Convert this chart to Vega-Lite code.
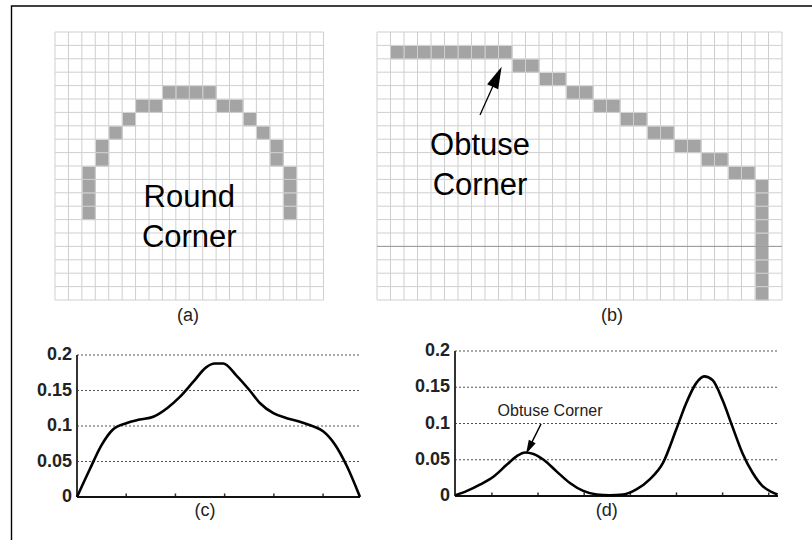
{
"$schema": "https://vega.github.io/schema/vega-lite/v6.json",
"width": 812, "height": 540,
"autosize": {"type": "none"},
"padding": 0,
"background": "white",
"config": {"view": {"stroke": null}, "axis": {"disable": true}},
"datasets": {
  "gridA": [{"g":0},{"g":1},{"g":2},{"g":3},{"g":4},{"g":5},{"g":6},{"g":7},{"g":8},{"g":9},{"g":10},{"g":11},{"g":12},{"g":13},{"g":14},{"g":15},{"g":16},{"g":17},{"g":18},{"g":19},{"g":20}],
  "gridB": [{"g":0},{"g":1},{"g":2},{"g":3},{"g":4},{"g":5},{"g":6},{"g":7},{"g":8},{"g":9},{"g":10},{"g":11},{"g":12},{"g":13},{"g":14},{"g":15},{"g":16},{"g":17},{"g":18},{"g":19},{"g":20},{"g":21},{"g":22},{"g":23},{"g":24},{"g":25},{"g":26},{"g":27},{"g":28},{"g":29},{"g":30}],
  "cellsA": [{"c":8,"r":4},{"c":9,"r":4},{"c":10,"r":4},{"c":11,"r":4},{"c":6,"r":5},{"c":7,"r":5},{"c":12,"r":5},{"c":13,"r":5},{"c":5,"r":6},{"c":14,"r":6},{"c":4,"r":7},{"c":15,"r":7},{"c":3,"r":8},{"c":16,"r":8},{"c":3,"r":9},{"c":16,"r":9},{"c":2,"r":10},{"c":17,"r":10},{"c":2,"r":11},{"c":17,"r":11},{"c":2,"r":12},{"c":17,"r":12},{"c":2,"r":13},{"c":17,"r":13}],
  "cellsB": [{"c":1,"r":1},{"c":2,"r":1},{"c":3,"r":1},{"c":4,"r":1},{"c":5,"r":1},{"c":6,"r":1},{"c":7,"r":1},{"c":8,"r":1},{"c":9,"r":1},{"c":10,"r":2},{"c":11,"r":2},{"c":12,"r":3},{"c":13,"r":3},{"c":14,"r":4},{"c":15,"r":4},{"c":16,"r":5},{"c":17,"r":5},{"c":18,"r":6},{"c":19,"r":6},{"c":20,"r":7},{"c":21,"r":7},{"c":22,"r":8},{"c":23,"r":8},{"c":24,"r":9},{"c":25,"r":9},{"c":26,"r":10},{"c":27,"r":10},{"c":28,"r":11},{"c":28,"r":12},{"c":28,"r":13},{"c":28,"r":14},{"c":28,"r":15},{"c":28,"r":16},{"c":28,"r":17},{"c":28,"r":18},{"c":28,"r":19}],
  "curveC": [{"x":0,"y":0},{"x":2.6,"y":0.039},{"x":4.9,"y":0.072},{"x":7.3,"y":0.095},{"x":10.0,"y":0.104},{"x":12.7,"y":0.109},{"x":15.5,"y":0.113},{"x":18.3,"y":0.125},{"x":20.9,"y":0.141},{"x":23.6,"y":0.162},{"x":26.3,"y":0.183},{"x":28.0,"y":0.188},{"x":29.7,"y":0.188},{"x":32.4,"y":0.171},{"x":35.1,"y":0.150},{"x":37.2,"y":0.132},{"x":39.9,"y":0.118},{"x":42.6,"y":0.111},{"x":45.3,"y":0.106},{"x":48.0,"y":0.0995},{"x":50.0,"y":0.0926},{"x":52.4,"y":0.074},{"x":54.8,"y":0.044},{"x":57.5,"y":0}],
  "curveD": [{"x":2.1,"y":0.001},{"x":4.6,"y":0.007},{"x":7.5,"y":0.016},{"x":10.4,"y":0.027},{"x":13.2,"y":0.043},{"x":15.4,"y":0.055},{"x":17.2,"y":0.060},{"x":19.0,"y":0.058},{"x":21.2,"y":0.050},{"x":24.0,"y":0.034},{"x":26.9,"y":0.018},{"x":29.8,"y":0.007},{"x":32.7,"y":0.002},{"x":35.5,"y":0.001},{"x":38.4,"y":0.002},{"x":41.3,"y":0.009},{"x":44.2,"y":0.023},{"x":47.1,"y":0.046},{"x":49.9,"y":0.091},{"x":52.1,"y":0.128},{"x":54.2,"y":0.155},{"x":56.0,"y":0.165},{"x":57.8,"y":0.160},{"x":60.0,"y":0.132},{"x":62.1,"y":0.096},{"x":64.3,"y":0.059},{"x":66.5,"y":0.032},{"x":68.6,"y":0.014},{"x":70.8,"y":0.005},{"x":71.9,"y":0.002}],
  "yticks": [{"v":0},{"v":0.05},{"v":0.1},{"v":0.15},{"v":0.2}],
  "xticksC": [{"t":10},{"t":20},{"t":30},{"t":40},{"t":50}],
  "xticksD": [{"t":10},{"t":20},{"t":30},{"t":40},{"t":50},{"t":60},{"t":70}]
},
"resolve": {"scale": {"x": "independent", "y": "independent"}},
"layer": [
  {"layer": [
    {"data": {"name": "cellsA"}, "mark": {"type": "rect", "fill": "#a4a4a4"},
     "encoding": {
       "x": {"field": "c", "type": "quantitative", "bin": {"binned": true, "step": 1}, "scale": {"domain": [0, 20], "range": [55, 323.5], "nice": false, "zero": false}},
       "y": {"field": "r", "type": "quantitative", "bin": {"binned": true, "step": 1}, "scale": {"domain": [0, 20], "range": [32, 300], "nice": false, "zero": false}}}},
    {"data": {"name": "gridA"}, "mark": {"type": "rule", "color": "#cfcfcf", "strokeWidth": 1},
     "encoding": {"x": {"field": "g", "type": "quantitative"}, "y": {"datum": 0}, "y2": {"datum": 20}}},
    {"data": {"name": "gridA"}, "mark": {"type": "rule", "color": "#cfcfcf", "strokeWidth": 1},
     "encoding": {"y": {"field": "g", "type": "quantitative"}, "x": {"datum": 0}, "x2": {"datum": 20}}},
    {"data": {"values": [{}]}, "mark": {"type": "text", "text": "Round", "font": "Liberation Sans", "fontSize": 31, "align": "center", "baseline": "alphabetic", "color": "black"},
     "encoding": {"x": {"datum": 10}, "y": {"datum": 13.04}}},
    {"data": {"values": [{}]}, "mark": {"type": "text", "text": "Corner", "font": "Liberation Sans", "fontSize": 31, "align": "center", "baseline": "alphabetic", "color": "black"},
     "encoding": {"x": {"datum": 10}, "y": {"datum": 16.03}}},
    {"data": {"values": [{}]}, "mark": {"type": "text", "text": "(a)", "font": "Liberation Sans", "fontSize": 18, "align": "center", "baseline": "alphabetic", "color": "#222"},
     "encoding": {"x": {"datum": 9.9}, "y": {"datum": 21.57}}}
  ]},
  {"layer": [
    {"data": {"name": "cellsB"}, "mark": {"type": "rect", "fill": "#a4a4a4"},
     "encoding": {
       "x": {"field": "c", "type": "quantitative", "bin": {"binned": true, "step": 1}, "scale": {"domain": [0, 30], "range": [377, 782], "nice": false, "zero": false}},
       "y": {"field": "r", "type": "quantitative", "bin": {"binned": true, "step": 1}, "scale": {"domain": [0, 20], "range": [32, 300], "nice": false, "zero": false}}}},
    {"data": {"name": "gridB"}, "mark": {"type": "rule", "color": "#cfcfcf", "strokeWidth": 1},
     "encoding": {"x": {"field": "g", "type": "quantitative"}, "y": {"datum": 0}, "y2": {"datum": 20}}},
    {"data": {"name": "gridB"}, "transform": [{"filter": "datum.g <= 20"}], "mark": {"type": "rule", "color": "#cfcfcf", "strokeWidth": 1},
     "encoding": {"y": {"field": "g", "type": "quantitative"}, "x": {"datum": 0}, "x2": {"datum": 30}}},
    {"data": {"values": [{}]}, "mark": {"type": "rule", "color": "#999999", "strokeWidth": 1},
     "encoding": {"y": {"datum": 16}, "x": {"datum": 0}, "x2": {"datum": 30}}},
    {"data": {"values": [{}]}, "mark": {"type": "rule", "color": "black", "strokeWidth": 1.3},
     "encoding": {"x": {"datum": 7.63}, "y": {"datum": 6.19}, "x2": {"datum": 8.9}, "y2": {"datum": 3.34}}},
    {"data": {"values": [{}]}, "mark": {"type": "point", "shape": "M0,-1L0.55,1L-0.55,1Z", "filled": true, "color": "black", "opacity": 1, "size": 484, "angle": 24.2},
     "encoding": {"x": {"datum": 8.9}, "y": {"datum": 3.34}}},
    {"data": {"values": [{}]}, "mark": {"type": "text", "text": "Obtuse", "font": "Liberation Sans", "fontSize": 31, "align": "center", "baseline": "alphabetic", "color": "black"},
     "encoding": {"x": {"datum": 7.63}, "y": {"datum": 9.18}}},
    {"data": {"values": [{}]}, "mark": {"type": "text", "text": "Corner", "font": "Liberation Sans", "fontSize": 31, "align": "center", "baseline": "alphabetic", "color": "black"},
     "encoding": {"x": {"datum": 7.63}, "y": {"datum": 12.16}}},
    {"data": {"values": [{}]}, "mark": {"type": "text", "text": "(b)", "font": "Liberation Sans", "fontSize": 18, "align": "center", "baseline": "alphabetic", "color": "#222"},
     "encoding": {"x": {"datum": 17.4}, "y": {"datum": 21.57}}}
  ]},
  {"layer": [
    {"data": {"name": "yticks"}, "transform": [{"filter": "datum.v > 0"}], "mark": {"type": "rule", "color": "#555555", "strokeWidth": 1, "strokeDash": [2, 2]},
     "encoding": {
       "y": {"field": "v", "type": "quantitative", "scale": {"domain": [0, 0.2], "range": [497, 355], "nice": false, "zero": false}},
       "x": {"datum": 0, "scale": {"domain": [0, 57.5], "range": [77, 360], "nice": false, "zero": false}},
       "x2": {"datum": 57.5}}},
    {"data": {"name": "yticks"}, "mark": {"type": "text", "font": "Liberation Sans", "fontSize": 18, "fontWeight": "bold", "align": "right", "baseline": "middle", "dx": -5, "color": "#222"},
     "encoding": {"y": {"field": "v", "type": "quantitative"}, "x": {"datum": 0}, "text": {"field": "v", "type": "quantitative", "format": "~g"}}},
    {"data": {"name": "xticksC"}, "mark": {"type": "rule", "color": "#333333", "strokeWidth": 1.5},
     "encoding": {"x": {"field": "t", "type": "quantitative"}, "y": {"datum": 0}, "y2": {"datum": 0.005}}},
    {"data": {"values": [{}]}, "mark": {"type": "rule", "color": "#333333", "strokeWidth": 2},
     "encoding": {"x": {"datum": 0}, "y": {"datum": 0}, "y2": {"datum": 0.2}}},
    {"data": {"values": [{}]}, "mark": {"type": "rule", "color": "#111111", "strokeWidth": 2},
     "encoding": {"y": {"datum": 0}, "x": {"datum": 0}, "x2": {"datum": 57.5}}},
    {"data": {"name": "curveC"}, "mark": {"type": "line", "color": "black", "strokeWidth": 2.6, "interpolate": "monotone"},
     "encoding": {"x": {"field": "x", "type": "quantitative"}, "y": {"field": "y", "type": "quantitative"}}},
    {"data": {"values": [{}]}, "mark": {"type": "text", "text": "(c)", "font": "Liberation Sans", "fontSize": 18, "align": "center", "baseline": "alphabetic", "color": "#222"},
     "encoding": {"x": {"datum": 26}, "y": {"datum": -0.0268}}}
  ]},
  {"layer": [
    {"data": {"name": "yticks"}, "transform": [{"filter": "datum.v > 0"}], "mark": {"type": "rule", "color": "#555555", "strokeWidth": 1, "strokeDash": [2, 2]},
     "encoding": {
       "y": {"field": "v", "type": "quantitative", "scale": {"domain": [0, 0.2], "range": [496, 351], "nice": false, "zero": false}},
       "x": {"datum": 2, "scale": {"domain": [2, 72], "range": [455, 778], "nice": false, "zero": false}},
       "x2": {"datum": 72}}},
    {"data": {"name": "yticks"}, "mark": {"type": "text", "font": "Liberation Sans", "fontSize": 18, "fontWeight": "bold", "align": "right", "baseline": "middle", "dx": -5, "color": "#222"},
     "encoding": {"y": {"field": "v", "type": "quantitative"}, "x": {"datum": 2}, "text": {"field": "v", "type": "quantitative", "format": "~g"}}},
    {"data": {"name": "xticksD"}, "mark": {"type": "rule", "color": "#333333", "strokeWidth": 1.5},
     "encoding": {"x": {"field": "t", "type": "quantitative"}, "y": {"datum": 0}, "y2": {"datum": 0.005}}},
    {"data": {"values": [{}]}, "mark": {"type": "rule", "color": "#333333", "strokeWidth": 2},
     "encoding": {"x": {"datum": 2}, "y": {"datum": 0}, "y2": {"datum": 0.2}}},
    {"data": {"values": [{}]}, "mark": {"type": "rule", "color": "#111111", "strokeWidth": 2},
     "encoding": {"y": {"datum": 0}, "x": {"datum": 2}, "x2": {"datum": 72}}},
    {"data": {"name": "curveD"}, "mark": {"type": "line", "color": "black", "strokeWidth": 2.6, "interpolate": "monotone"},
     "encoding": {"x": {"field": "x", "type": "quantitative"}, "y": {"field": "y", "type": "quantitative"}}},
    {"data": {"values": [{}]}, "mark": {"type": "text", "text": "Obtuse Corner", "font": "Liberation Sans", "fontSize": 16, "align": "center", "baseline": "alphabetic", "color": "#222"},
     "encoding": {"x": {"datum": 22.6}, "y": {"datum": 0.11}}},
    {"data": {"values": [{}]}, "mark": {"type": "rule", "color": "black", "strokeWidth": 1.5},
     "encoding": {"x": {"datum": 20.64}, "y": {"datum": 0.0993}, "x2": {"datum": 18.06}, "y2": {"datum": 0.0666}}},
    {"data": {"values": [{}]}, "mark": {"type": "point", "shape": "M0,-1L0.55,1L-0.55,1Z", "filled": true, "color": "black", "opacity": 1, "size": 196, "angle": 206.6},
     "encoding": {"x": {"datum": 18.06}, "y": {"datum": 0.0666}}},
    {"data": {"values": [{}]}, "mark": {"type": "text", "text": "(d)", "font": "Liberation Sans", "fontSize": 18, "align": "center", "baseline": "alphabetic", "color": "#222"},
     "encoding": {"x": {"datum": 34.9}, "y": {"datum": -0.0276}}}
  ]},
  {"data": {"values": [{}]}, "mark": {"type": "rect", "fillOpacity": 0, "stroke": "black", "strokeWidth": 1.4},
   "encoding": {
     "x": {"datum": 0, "scale": {"domain": [0, 1], "range": [11.5, 830], "nice": false, "zero": false}},
     "x2": {"datum": 1},
     "y": {"datum": 0, "scale": {"domain": [0, 1], "range": [6, 560], "nice": false, "zero": false}},
     "y2": {"datum": 1}}}
]
}
